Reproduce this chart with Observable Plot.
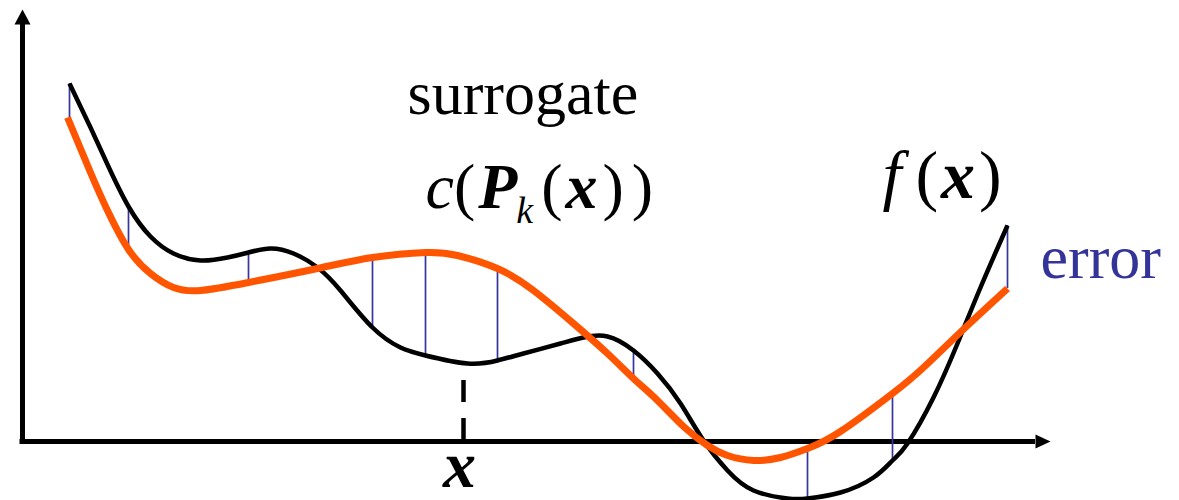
<!DOCTYPE html>
<html><head><meta charset="utf-8">
<script src="https://cdn.jsdelivr.net/npm/d3@7"></script>
<script src="https://cdn.jsdelivr.net/npm/@observablehq/plot@0.6"></script>
<style>html,body{margin:0;padding:0;background:#fff}</style>
</head><body><div id="chart"></div>
<script>
const fX = [4.7, 6.8, 8.5, 10.6, 12.8, 15.1, 17.8, 20.5, 22.6, 24.8, 27.1, 29.5, 31.8, 35.0, 37.8, 40.3, 44.5, 47.5, 50.1, 53.8, 56.1, 58.5, 61.1, 63.5, 65.8, 68.1, 70.5, 73.1, 76.5, 78.5, 81.8, 85.1, 87.0, 88.5, 91.1, 93.5, 95.8, 98.5];
const fY = [35.8, 31.4, 27.7, 23.5, 20.5, 18.8, 18.1, 18.4, 18.9, 19.3, 18.8, 17.4, 15.1, 11.4, 9.4, 8.6, 7.8, 8.1, 8.8, 9.8, 10.4, 10.5, 9.1, 6.8, 3.8, 0.1, -2.9, -4.9, -5.7, -5.7, -5.1, -3.6, -1.9, -0.2, 4.4, 9.8, 15.4, 21.6];
// Surrogate c(P_k(x)) (orange)
const cX = [4.5, 6.8, 8.5, 10.6, 12.8, 15.1, 17.8, 22.6, 29.5, 35.0, 40.3, 43.5, 47.5, 51.1, 55.1, 58.5, 61.1, 63.5, 66.1, 68.5, 70.5, 73.1, 75.8, 78.5, 81.8, 87.0, 90.1, 94.5, 98.5];
const cY = [32.4, 26.9, 23.1, 19.2, 16.8, 15.4, 15.1, 15.9, 17.3, 18.4, 18.9, 18.6, 17.3, 15.1, 11.8, 8.8, 6.3, 4.1, 1.5, -0.4, -1.4, -1.9, -1.6, -0.7, 1.0, 4.8, 7.4, 11.6, 15.3];
// Error segments between f and c
const errX = [4.7, 10.6, 22.6, 35.0, 40.3, 47.5, 61.1, 78.5, 87.0, 98.5];
const errTop = [35.8, 23.5, 18.9, 18.4, 18.9, 17.3, 9.1, -0.7, 4.8, 21.6];
const errBottom = [32.2, 19.2, 15.9, 11.4, 8.6, 8.1, 6.3, -5.7, -1.9, 15.3];
// Marked point on the x axis
const xStar = [44.1];
// Labels
const labelSurrogate = "surrogate";
const labelC = "c(Pk(x))";
const labelF = "f(x)";
const labelError = "error";
const labelX = "x";

const fData = fX.map((x, i) => ({x, y: fY[i]}));
const cData = cX.map((x, i) => ({x, y: cY[i]}));
const errData = errX.map((x, i) => ({x, y1: errTop[i], y2: errBottom[i]}));

const arrowUp = {draw(ctx) { ctx.moveTo(0, -15); ctx.lineTo(8, 0); ctx.lineTo(-8, 0); ctx.closePath(); }};
const arrowRight = {draw(ctx) { ctx.moveTo(15, 0); ctx.lineTo(0, -7); ctx.lineTo(0, 7); ctx.closePath(); }};

const serif = "'Liberation Serif', 'Times New Roman', serif";

const plot = Plot.plot({
  width: 1179,
  height: 500,
  margin: 0,
  style: {background: "white"},
  x: {domain: [0, 102.8], range: [22, 1050], axis: null},
  y: {domain: [0, 43.2], range: [441, 9], axis: null},
  marks: [
    // axes
    Plot.ruleX([0], {y1: -0.25, y2: 41.7, stroke: "black", strokeWidth: 5}),
    Plot.ruleY([0], {x1: -0.25, x2: 101.3, stroke: "black", strokeWidth: 5}),
    Plot.dot([0], {x: 0, y: 41.7, symbol: arrowUp, fill: "black", stroke: "none", r: 5}),
    Plot.dot([0], {x: 101.3, y: 0, symbol: arrowRight, fill: "black", stroke: "none", r: 5}),
    // error lines
    Plot.ruleX(errData, {x: "x", y1: "y1", y2: "y2", stroke: "#3535a0", strokeWidth: 1.7}),
    // dashed marker
    Plot.ruleX(xStar, {x: d => d, y1: 6.1, y2: 0, stroke: "black", strokeWidth: 4.5, strokeDasharray: "22,16"}),
    // curves
    Plot.line(fData, {x: "x", y: "y", curve: "natural", stroke: "black", strokeWidth: 4.5, strokeLinecap: "butt"}),
    Plot.line(cData, {x: "x", y: "y", curve: "natural", stroke: "#ff5500", strokeWidth: 7, strokeLinecap: "butt"}),
    // labels
    Plot.text([labelSurrogate], {x: 38.5, y: 32.8, text: d => d, textAnchor: "start", lineAnchor: "bottom", fontFamily: serif, fontSize: 62, fill: "black"}),
    Plot.text([labelC], {x: 40.3, y: 23.4, text: d => d, textAnchor: "start", lineAnchor: "bottom", fontFamily: serif, fontSize: 64, fill: "black"}),
    Plot.text([labelF], {x: 86.0, y: 24.4, text: d => d, textAnchor: "start", lineAnchor: "bottom", fontFamily: serif, fontSize: 68, fill: "black"}),
    Plot.text([labelError], {x: 101.8, y: 16.4, text: d => d, textAnchor: "start", lineAnchor: "bottom", fontFamily: serif, fontSize: 62, fill: "#333399"}),
    Plot.text([labelX], {x: 43.7, y: -4.5, text: d => d, textAnchor: "middle", lineAnchor: "bottom", fontFamily: serif, fontSize: 66, fill: "black"})
  ]
});

function rich(el, parts) {
  const t = d3.select(el);
  t.text(null);
  for (const p of parts) {
    const s = t.append("tspan").text(p.t);
    if (p.i) s.attr("font-style", "italic");
    if (p.b) s.attr("font-weight", "bold");
    if (p.size) s.attr("font-size", p.size);
    if (p.dx) s.attr("dx", p.dx);
    if (p.dy) s.attr("dy", p.dy);
  }
}
d3.select(plot).selectAll("text").each(function() {
  const s = this.textContent;
  if (s === labelC) {
    rich(this, [
      {t: "c", i: 1},
      {t: "("},
      {t: "P", i: 1, b: 1, dx: 3},
      {t: "k", i: 1, size: 38, dx: -1, dy: 15},
      {t: "(", dx: 8, dy: -15},
      {t: "x", i: 1, b: 1, dx: 3},
      {t: ")", dx: 5},
      {t: ")", dx: 8}
    ]);
  } else if (s === labelF) {
    rich(this, [
      {t: "f", i: 1},
      {t: "(", dx: 14},
      {t: "x", i: 1, b: 1, dx: 3},
      {t: ")", dx: 4}
    ]);
  } else if (s === labelX) {
    rich(this, [{t: "x", i: 1, b: 1}]);
  }
});
document.getElementById("chart").appendChild(plot);
</script>
</body></html>
